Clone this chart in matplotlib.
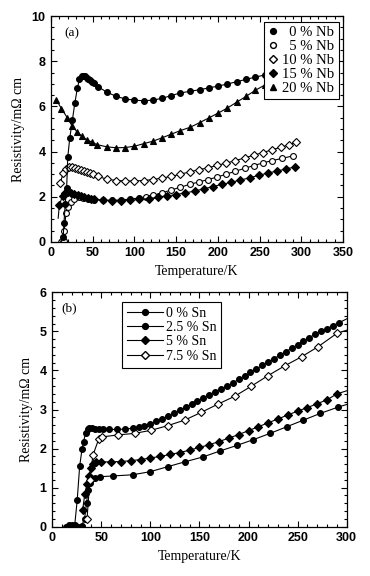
import matplotlib
matplotlib.use("Agg")
import matplotlib.pyplot as plt
from matplotlib.lines import Line2D
from matplotlib.ticker import MultipleLocator

# ---- panel (a): Nb doped ----
t_nb0 = [14.5, 15.5, 17, 18.7, 20, 22.5, 25.5, 28.5, 31.5, 34, 36.5, 38.5, 40.5, 42.5,
         44.5, 46.5, 48.5, 51, 56, 67, 78, 89, 100, 111, 122, 133, 144, 155, 167, 178,
         189, 200, 211, 223, 234, 245, 257]
r_nb0 = [0.2, 0.85, 1.7, 2.4, 3.75, 4.62, 5.38, 6.15, 6.8, 7.2, 7.36, 7.36, 7.33, 7.28,
         7.22, 7.16, 7.1, 7.02, 6.88, 6.63, 6.45, 6.33, 6.28, 6.25, 6.28, 6.36, 6.48, 6.6,
         6.67, 6.74, 6.82, 6.9, 6.99, 7.1, 7.2, 7.3, 7.4]

t_nb5 = [12.5, 14, 15, 15.7, 18, 20.5, 23.5, 28, 33, 38, 44, 51, 62, 73, 84, 95, 106,
         114, 122, 133, 144, 155, 166, 177, 188, 199, 210, 221, 232, 243, 254, 265, 277, 290]
r_nb5 = [0, 0, 0.05, 0.5, 1.3, 1.55, 1.77, 1.92, 1.98, 1.95, 1.9, 1.87, 1.85, 1.85, 1.86,
         1.9, 1.95, 2.0, 2.06, 2.17, 2.3, 2.42, 2.55, 2.65, 2.76, 2.87, 3.0, 3.13, 3.26,
         3.38, 3.5, 3.6, 3.7, 3.81]

t_nb10 = [11, 14.5, 18.5, 22, 25.5, 29, 32.5, 36, 39.5, 43, 46.5, 50, 56, 67, 78, 89, 100,
          111, 122, 133, 144, 155, 166, 177, 188, 199, 210, 221, 232, 243, 254, 265, 276,
          285, 294]
r_nb10 = [2.6, 3.05, 3.25, 3.32, 3.3, 3.26, 3.22, 3.18, 3.14, 3.1, 3.05, 3.0, 2.9, 2.78,
          2.72, 2.7, 2.7, 2.72, 2.76, 2.83, 2.9, 3.0, 3.1, 3.2, 3.28, 3.39, 3.49, 3.6, 3.72,
          3.84, 3.96, 4.08, 4.2, 4.3, 4.42]

t_nb15 = [8.5, 10, 14, 17, 20, 24, 28, 32, 36, 40, 44, 48, 52, 62, 73, 84, 95, 106, 117,
          128, 139, 150, 161, 172, 183, 194, 205, 216, 227, 238, 249, 260, 271, 282, 292]
r_nb15 = [1.05, 1.65, 2.05, 2.15, 2.2, 2.18, 2.12, 2.08, 2.04, 2.0, 1.96, 1.92, 1.88, 1.84,
          1.83, 1.83, 1.85, 1.88, 1.92, 1.97, 2.03, 2.1, 2.17, 2.25, 2.35, 2.45, 2.55, 2.64,
          2.74, 2.84, 2.95, 3.05, 3.14, 3.23, 3.32]

t_nb20 = [6.5, 12.5, 19.5, 25, 31, 37, 43, 49, 55, 67, 78, 89, 100, 111, 122, 133, 144,
          155, 167, 178, 189, 200, 211, 223, 234, 245, 257]
r_nb20 = [6.28, 5.9, 5.5, 5.15, 4.88, 4.67, 4.52, 4.42, 4.31, 4.21, 4.17, 4.18, 4.24, 4.35,
          4.46, 4.61, 4.77, 4.93, 5.08, 5.28, 5.49, 5.7, 5.92, 6.2, 6.45, 6.72, 6.96]

# ---- panel (b): Sn doped ----
t_sn0 = [14, 17, 20, 23, 25.5, 28, 30.5, 32, 34, 36, 38, 41, 44, 48, 52, 58, 66, 74, 82,
         88, 94, 100, 106, 112, 118, 124, 130, 136, 142, 148, 154, 160, 166, 172, 178, 184,
         190, 196, 202, 208, 214, 220, 226, 232, 238, 244, 250, 256, 262, 268, 274, 280,
         286, 292, 300]
r_sn0 = [0.0, 0.05, 0.04, 0.05, 0.68, 1.55, 2.0, 2.18, 2.4, 2.5, 2.52, 2.52, 2.51, 2.5,
         2.5, 2.49, 2.49, 2.5, 2.52, 2.55, 2.58, 2.64, 2.7, 2.76, 2.83, 2.9, 2.98, 3.06,
         3.14, 3.22, 3.3, 3.38, 3.46, 3.53, 3.6, 3.68, 3.77, 3.86, 3.95, 4.04, 4.13, 4.22,
         4.3, 4.39, 4.48, 4.57, 4.66, 4.75, 4.84, 4.93, 5.0, 5.07, 5.15, 5.22, 5.32]

t_sn25 = [26, 30, 33, 35, 36.7, 38.5, 40, 43.5, 48.6, 62, 82, 100, 118, 135, 154, 171, 188,
          205, 222, 239, 256, 273, 291, 300]
r_sn25 = [0.0, 0.03, 0.2, 0.6, 0.94, 1.12, 1.22, 1.26, 1.28, 1.3, 1.33, 1.41, 1.54, 1.66,
          1.79, 1.94, 2.08, 2.23, 2.39, 2.56, 2.73, 2.9, 3.06, 3.13]

t_sn5 = [31, 33.3, 35.7, 37.7, 39.1, 41.2, 45, 50, 60, 70, 80, 90, 100, 110, 120, 130, 140,
         150, 160, 170, 180, 190, 200, 210, 220, 230, 240, 250, 260, 270, 280, 290, 300]
r_sn5 = [0.42, 0.85, 1.1, 1.3, 1.5, 1.6, 1.65, 1.66, 1.66, 1.67, 1.69, 1.72, 1.76, 1.8,
         1.85, 1.9, 1.96, 2.03, 2.1, 2.18, 2.27, 2.36, 2.46, 2.56, 2.66, 2.76, 2.86, 2.96,
         3.05, 3.15, 3.25, 3.4, 3.48]

t_sn75 = [35.5, 38.4, 41.5, 47.5, 51, 67, 84, 101, 118, 135, 152, 169, 186, 203, 220, 237,
          254, 271, 290, 300]
r_sn75 = [0.2, 1.2, 1.83, 2.25, 2.3, 2.35, 2.39, 2.47, 2.59, 2.73, 2.93, 3.14, 3.34, 3.6,
          3.87, 4.12, 4.35, 4.61, 4.95, 5.03]

labels_a = ["  0 % Nb", "  5 % Nb", "10 % Nb", "15 % Nb", "20 % Nb"]
labels_b = ["0 % Sn", "2.5 % Sn", "5 % Sn", "7.5 % Sn"]

serif = "Liberation Serif"
tickfont = {"family": "Liberation Sans", "weight": "bold", "size": 9}

fig = plt.figure(figsize=(3.7, 5.76), dpi=100)
ax1 = fig.add_axes([0.138, 0.580, 0.789, 0.392])
ax2 = fig.add_axes([0.141, 0.0855, 0.796, 0.407])

lw = 0.8
ms = 4.2
kw = dict(color="black", lw=lw, ms=ms, mec="black", mew=0.8)

ax1.plot(t_nb5, r_nb5, marker="o", mfc="white", **kw)
ax1.plot(t_nb10, r_nb10, marker="D", mfc="white", **dict(kw, ms=3.6))
ax1.plot(t_nb15, r_nb15, marker="D", mfc="black", markevery=slice(1, None), **dict(kw, ms=3.8))
ax1.plot(t_nb20, r_nb20, marker="^", mfc="black", **kw)
ax1.plot(t_nb0, r_nb0, marker="o", mfc="black", **kw)

ax1.set_xlim(0, 350)
ax1.set_ylim(0, 10)
ax1.xaxis.set_major_locator(MultipleLocator(50))
ax1.xaxis.set_minor_locator(MultipleLocator(10))
ax1.yaxis.set_major_locator(MultipleLocator(2))
ax1.yaxis.set_minor_locator(MultipleLocator(0.5))

ax2.plot(t_sn25, r_sn25, marker="o", mfc="black", markevery=slice(0, -1), **kw)
ax2.plot(t_sn5, r_sn5, marker="D", mfc="black", markevery=slice(0, -1), **dict(kw, ms=4.4))
ax2.plot(t_sn75, r_sn75, marker="D", mfc="white", markevery=slice(0, -1), **dict(kw, ms=4.4))
ax2.plot(t_sn0, r_sn0, marker="o", mfc="black", markevery=slice(0, -1), **kw)

ax2.set_xlim(0, 300)
ax2.set_ylim(0, 6)
ax2.xaxis.set_major_locator(MultipleLocator(50))
ax2.xaxis.set_minor_locator(MultipleLocator(10))
ax2.yaxis.set_major_locator(MultipleLocator(1))
ax2.yaxis.set_minor_locator(MultipleLocator(0.2))

for ax in (ax1, ax2):
    ax.tick_params(which="both", direction="in", top=True, right=True, width=0.8)
    ax.tick_params(which="major", length=4, pad=4)
    ax.tick_params(which="minor", length=2)
    for lab in ax.get_xticklabels() + ax.get_yticklabels():
        lab.set_fontproperties(tickfont)
    for s in ax.spines.values():
        s.set_linewidth(0.9)
    ax.set_xlabel("Temperature/K", family=serif, fontsize=10, labelpad=4)
    ax.set_ylabel("Resistivity/m\u03a9 cm", family=serif, fontsize=10, labelpad=5)

ax1.text(0.045, 0.925, "(a)", transform=ax1.transAxes, family=serif, fontsize=9.5, va="center")
ax2.text(0.03, 0.93, "(b)", transform=ax2.transAxes, family=serif, fontsize=9.5, va="center")

h_a = [Line2D([], [], ls="none", marker="o", mfc="black", mec="black", ms=ms),
       Line2D([], [], ls="none", marker="o", mfc="white", mec="black", ms=ms),
       Line2D([], [], ls="none", marker="D", mfc="white", mec="black", ms=3.8),
       Line2D([], [], ls="none", marker="D", mfc="black", mec="black", ms=3.8),
       Line2D([], [], ls="none", marker="^", mfc="black", mec="black", ms=ms)]
leg1 = ax1.legend(h_a, labels_a, loc="upper right", bbox_to_anchor=(0.985, 0.975),
                  prop={"family": serif, "size": 10.5}, frameon=True, fancybox=False,
                  edgecolor="black", framealpha=1, handlelength=0.6, handletextpad=0.3,
                  labelspacing=0.05, borderpad=0.3, borderaxespad=0)
leg1.get_frame().set_linewidth(0.8)

h_b = [Line2D([], [], color="black", lw=lw, marker="o", mfc="black", mec="black", ms=ms),
       Line2D([], [], color="black", lw=lw, marker="o", mfc="black", mec="black", ms=ms),
       Line2D([], [], color="black", lw=lw, marker="D", mfc="black", mec="black", ms=4.4),
       Line2D([], [], color="black", lw=lw, marker="D", mfc="white", mec="black", ms=4.4)]
leg2 = ax2.legend(h_b, labels_b, loc="upper left", bbox_to_anchor=(0.237, 0.96),
                  prop={"family": serif, "size": 10}, frameon=True, fancybox=False,
                  edgecolor="black", framealpha=1, handlelength=2.6, handletextpad=0.2,
                  labelspacing=0.1, borderpad=0.35, borderaxespad=0)
leg2.get_frame().set_linewidth(0.8)

fig.savefig("out.png", dpi=100)
